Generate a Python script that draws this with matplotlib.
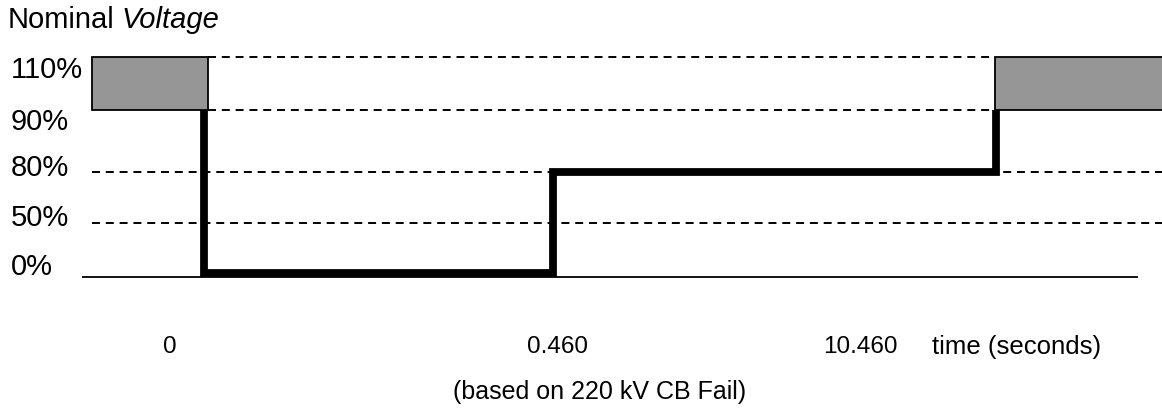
import matplotlib
matplotlib.use("Agg")
import matplotlib.pyplot as plt
from matplotlib.patches import Rectangle
from matplotlib import transforms

plt.rcParams['font.family'] = ['Liberation Sans', 'DejaVu Sans']

# voltage levels (labels) and their schematic heights on the sketch
levels = ["0%", "50%", "80%", "90%", "110%"]
level_h = [0, 50, 101, 163, 216]
lvl = dict(zip(levels, level_h))

# schematic time positions of the events along the axis
t_fault = 122     # fault applied
t_clear = 471     # fault cleared (0.460 s)
t_recover = 914   # back to normal (10.460 s)
t_end = 1055      # end of the time axis
x_box_left = 10
x_right = 1080

# voltage profile (thick trace)
trace_x = [t_fault, t_fault, t_clear, t_clear, t_recover, t_recover]
trace_v = ["90%", "0%", "0%", "80%", "80%", "90%"]

tick_labels = ["0", "0.460", "10.460"]
tick_x = [88, 475, 778]

fig = plt.figure(figsize=(11.62, 4.10), dpi=100)
ax = fig.add_axes([82 / 1162, (410 - 300) / 410, 1080 / 1162, 260 / 410])
ax.set_xlim(0, x_right)
ax.set_ylim(-26, 234)
ax.axis("off")

gray = "#969696"
# normal operating bands (90-110%)
for x0, x1 in [(x_box_left, t_fault + 4), (t_recover - 1, x_right + 5)]:
    ax.add_patch(Rectangle((x0, lvl["90%"]), x1 - x0, lvl["110%"] - lvl["90%"],
                           facecolor=gray, edgecolor="black", lw=1.3, zorder=2))

dash = dict(color="black", lw=1.4, dashes=(4.1, 3.0), zorder=1)
ax.plot([t_fault + 4, t_recover - 1], [lvl["110%"]] * 2, **dash)
ax.plot([t_fault + 4, t_recover - 1], [lvl["90%"]] * 2, **dash)
ax.plot([x_box_left, x_right], [lvl["80%"]] * 2, **dash)
ax.plot([x_box_left, x_right], [lvl["50%"]] * 2, **dash)

# baseline, sits just under the 0% trace
base_tr = transforms.offset_copy(ax.transData, fig=fig, y=-4, units="dots")
ax.plot([0, t_end], [lvl["0%"]] * 2, color="black", lw=1.3, transform=base_tr, zorder=1)

ax.plot(trace_x, [lvl[v] for v in trace_v], color="black", lw=5.6,
        solid_joinstyle="miter", solid_capstyle="butt", zorder=3)

# y labels (left of the axes)
lab_tr = transforms.blended_transform_factory(fig.transFigure, ax.transData)
label_dy = [-7, -6, -5, 11, 12]
for name, dy in zip(levels, label_dy):
    tr = transforms.offset_copy(lab_tr, fig=fig, y=-dy, units="dots")
    ax.text(11 / 1162, lvl[name], name, transform=tr, ha="left", va="center", fontsize=21)

for lab, x in zip(tick_labels, tick_x):
    fig.text((x + 82) / 1162, (410 - 347) / 410, lab, ha="center", va="center", fontsize=17.5)
fig.text(1017 / 1162, (410 - 347) / 410, "time (seconds)", ha="center", va="center", fontsize=18.5)
fig.text(600 / 1162, (410 - 392) / 410, "(based on 220 kV CB Fail)", ha="center", va="center", fontsize=18)

t1 = fig.text(8 / 1162, (410 - 20) / 410, "Nominal", ha="left", va="center", fontsize=21)
ax.annotate("Voltage", xy=(1, 0), xycoords=t1, xytext=(5, 0), textcoords="offset points",
            ha="left", va="bottom", fontsize=21, style="italic")

fig.savefig("out.png", dpi=100)
